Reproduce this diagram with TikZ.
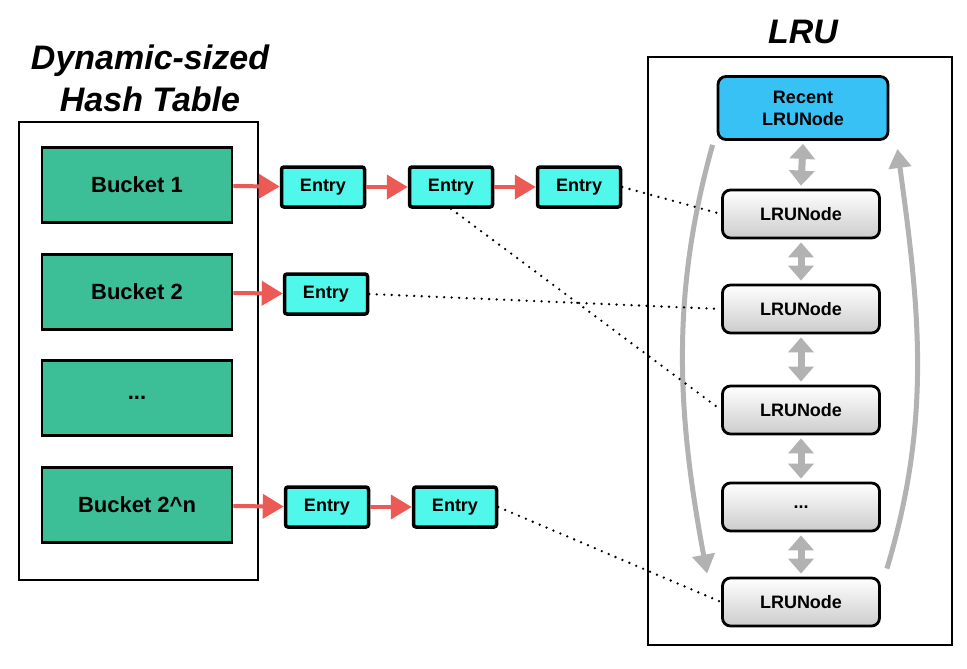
\documentclass[tikz,border=0pt]{standalone}
\usepackage{fontspec}
\setmainfont{Liberation Sans}
\usepackage{xcolor}
\usetikzlibrary{arrows.meta,calc}
\definecolor{bucketgreen}{RGB}{60,190,150}
\definecolor{entrycyan}{RGB}{80,248,235}
\definecolor{recentblue}{RGB}{55,193,245}
\definecolor{linkred}{RGB}{235,90,85}
\definecolor{loopgray}{RGB}{178,178,178}
\tikzset{
	frame/.style={draw, line width=2.6pt, fill=white},
	bucket/.style={draw, line width=2.8pt, fill=bucketgreen, minimum width=190pt, minimum height=75pt,
			inner sep=0pt, font=\fontsize{22}{24}\selectfont\bfseries},
	entry/.style={draw, line width=3.5pt, fill=entrycyan, rounded corners=2.5pt, minimum width=83pt,
			minimum height=40pt, inner sep=0pt, font=\fontsize{18}{20}\selectfont\bfseries},
	lrunode/.style={draw, line width=2.8pt, rounded corners=8pt, top color=white, bottom color=black!20,
			minimum width=157pt, minimum height=48pt, inner sep=0pt, font=\fontsize{18}{20}\selectfont\bfseries},
	recent/.style={lrunode, fill=recentblue, top color=recentblue, bottom color=recentblue,
			minimum width=170pt, minimum height=63pt, align=center, font=\fontsize{18}{22}\selectfont\bfseries},
	title/.style={align=center, font=\fontsize{34}{42}\selectfont\bfseries\itshape},
	link/.style={draw=linkred, line width=4pt, -{Triangle[length=21pt,width=24pt]}},
	neighbour/.style={draw=loopgray, line width=7pt,
			{Triangle[length=15pt,width=25pt]}-{Triangle[length=15pt,width=25pt]}},
	loop/.style={draw=loopgray, line width=5pt, -{Triangle[length=19pt,width=22pt]}},
	ref/.style={line width=2.6pt, line cap=round, dash pattern=on 0pt off 7.5pt}
}

\begin{document}
\begin{tikzpicture}[x=1pt, y=-1pt]
	\useasboundingbox (0,0) rectangle (967,669);

	% hash table
	\node[title] (httitle) at (150,78) {Dynamic-sized\\Hash Table};
	\draw[frame] (19,122) rectangle (258,580);
	\node[bucket] (b1) at (137,185) {Bucket 1};
	\node[bucket] (b2) at (137,292) {Bucket 2};
	\node[bucket] (b3) at (137,398) {...};
	\node[bucket] (bn) at (137,505) {Bucket 2\^{}n};

	% entries
	\node[entry] (e11) at (323,187) {Entry};
	\node[entry] (e12) at (451,187) {Entry};
	\node[entry] (e13) at (579,187) {Entry};
	\node[entry] (e21) at (326,294) {Entry};
	\node[entry] (en1) at (327,507) {Entry};
	\node[entry] (en2) at (455,507) {Entry};

	\draw[link] (b1) -- (e11);
	\draw[link] (e11) -- (e12);
	\draw[link] (e12) -- (e13);
	\draw[link] (b2) -- (e21);
	\draw[link] (bn) -- (en1);
	\draw[link] (en1) -- (en2);

	% lru list
	\node[title] (lrutitle) at (803,32) {LRU};
	\draw[frame] (648,57) rectangle (952,645);
	\node[recent] (r) at (803,108) {Recent\\LRUNode};
	\node[lrunode] (l1) at (801,214) {LRUNode};
	\node[lrunode] (l2) at (801,309) {LRUNode};
	\node[lrunode] (l3) at (801,410) {LRUNode};
	\node[lrunode] (l4) at (801,507) {...};
	\node[lrunode] (l5) at (801,602) {LRUNode};

	\draw[neighbour] ($(r.south)+(0,3)$) -- ($(l1.north)+(0,-3)$);
	\draw[neighbour] ($(l1.south)+(0,3)$) -- ($(l2.north)+(0,-3)$);
	\draw[neighbour] ($(l2.south)+(0,3)$) -- ($(l3.north)+(0,-3)$);
	\draw[neighbour] ($(l3.south)+(0,3)$) -- ($(l4.north)+(0,-3)$);
	\draw[neighbour] ($(l4.south)+(0,3)$) -- ($(l5.north)+(0,-3)$);

	\draw[loop] ($(r.south west)+(-4,4)$) .. controls +(-42,150) and +(-30,-160) .. ($(l5.north west)+(-14,-3)$);
	\draw[loop] ($(l5.north east)+(6,-8)$) .. controls +(45,-150) and +(22,160) .. ($(r.south east)+(8,8)$);

	% entry to node references
	\draw[ref] (e13.east) -- (l1.west);
	\draw[ref] (e12.south) -- (l3.west);
	\draw[ref] (e21.east) -- (l2.west);
	\draw[ref] (en2.east) -- (l5.west);
\end{tikzpicture}
\end{document}
